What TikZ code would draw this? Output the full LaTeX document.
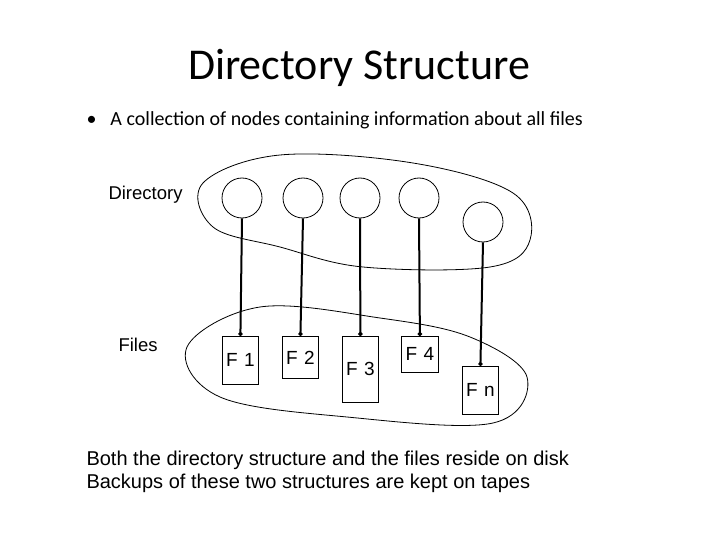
\documentclass[tikz,border=0pt]{standalone}
\usepackage{fontspec}
\setmainfont{Carlito}
\newfontfamily\arial{Liberation Sans}
\usetikzlibrary{arrows.meta,shapes.geometric}
\begin{document}
\begin{tikzpicture}[x=1pt,y=-1pt,
  dir/.style={draw,ellipse,minimum width=40pt,minimum height=40pt,inner sep=0pt,line width=0.8pt},
  file/.style={draw,rectangle,line width=0.8pt,font=\arial\fontsize{19}{22}\selectfont,inner sep=0pt,anchor=north west},
  link/.style={line width=2pt,-{Circle[length=4pt]}},
  blob/.style={line width=0.8pt}]
\useasboundingbox (0,0) rectangle (720,540);
\node (title) at (359,68) {\fontsize{44}{52}\selectfont Directory Structure};
\node[anchor=west] (bul) at (83,120) {\fontsize{20}{24}\selectfont •\hspace{14pt}A collection of nodes containing information about all files};
\node[anchor=west,font=\arial\fontsize{18.5}{22}\selectfont] (dl) at (105,195) {Directory};
\node[anchor=west,font=\arial\fontsize{18.5}{22}\selectfont] (fl) at (115,345) {Files};
\draw[blob] plot[smooth cycle,tension=0.6] coordinates {(203,183) (280,155) (413,163) (513,193) (530,240) (490,267) (363,267) (280,247) (213,227)};
\draw[blob] plot[smooth cycle,tension=0.6] coordinates {(187,347) (260,307) (380,318) (470,337) (527,377) (493,423) (347,417) (220,397)};
\node[dir] (d1) at (242,198) {};
\node[dir] (d2) at (303,198) {};
\node[dir] (d3) at (360,198) {};
\node[dir] (d4) at (419,198) {};
\node[dir] (dn) at (483,222) {};
\node[file,minimum width=36pt,minimum height=48pt] (f1) at (222,336) {F\,\,1};
\node[file,minimum width=36pt,minimum height=42pt] (f2) at (282,336) {F\,\,2};
\node[file,minimum width=36pt,minimum height=66pt] (f3) at (342,336) {F\,\,3};
\node[file,minimum width=37pt,minimum height=36pt] (f4) at (401,336) {F\,\,4};
\node[file,minimum width=36pt,minimum height=48pt] (fn) at (462,366) {F\,\,n};
\foreach \a/\b in {d1/f1,d2/f2,d3/f3,d4/f4,dn/fn}
  \draw[link] (\a.south) -- (\b.north);
\node[anchor=west,align=left,font=\arial\fontsize{20}{23}\selectfont] (bt) at (83,472) {Both the directory structure and the files reside on disk\\Backups of these two structures are kept on tapes};
\end{tikzpicture}
\end{document}
